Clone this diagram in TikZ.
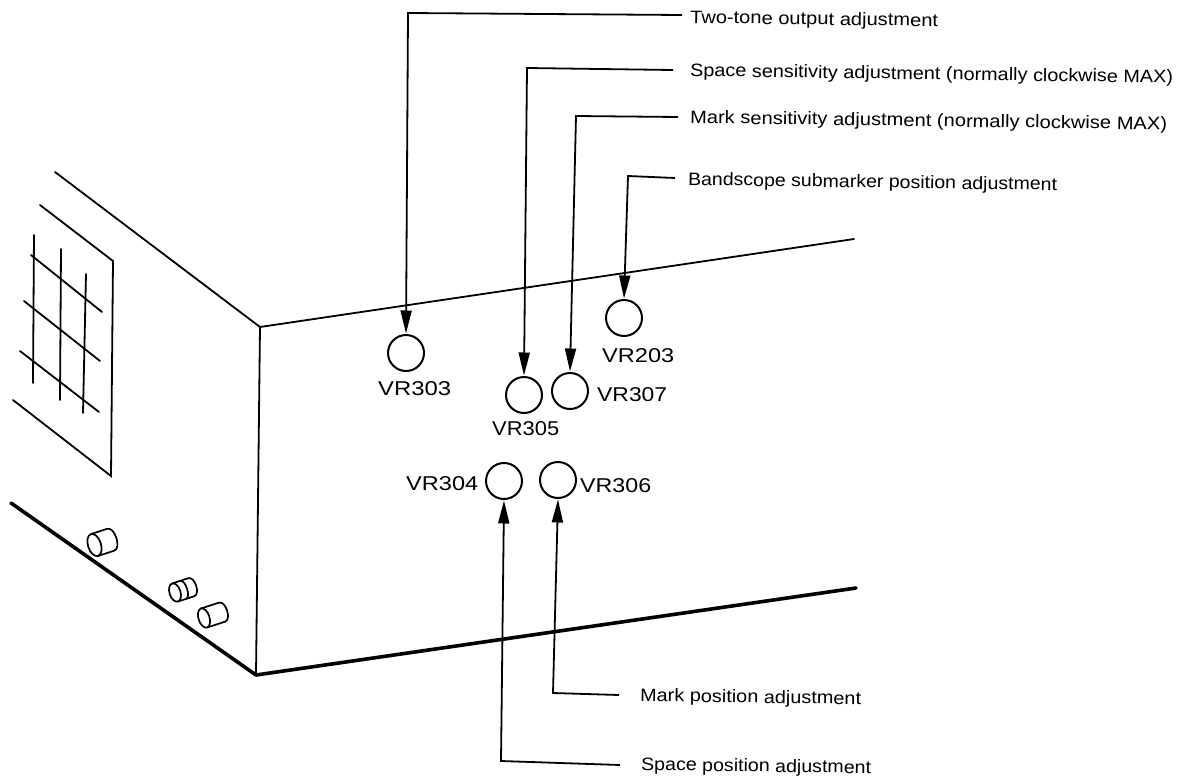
\documentclass[tikz,border=0pt]{standalone}
\usepackage{fontspec}
\usepackage{graphicx}
\setmainfont{Liberation Sans}
\usetikzlibrary{arrows.meta}
\newcommand{\fitw}[2]{\resizebox{#1pt}{\height}{#2}}
\tikzset{
  thinl/.style={line width=1.8pt,black,line cap=round,line join=miter},
  thickl/.style={line width=3.6pt,black,line cap=round,line join=round},
  conn/.style={line width=1.8pt,black,line join=miter,-{Triangle[length=23pt,width=11pt]},shorten >=0.5pt},
  knobd/.style={line width=1.7pt,black},
  vr/.style={circle,draw=black,line width=2pt,minimum size=36pt,inner sep=0pt},
  lab/.style={anchor=west,rotate=-0.8,inner ysep=0pt,text height=12pt,text depth=0pt,font=\fontsize{18}{18}\selectfont},
  vrlab/.style={anchor=base west,inner sep=0pt,font=\fontsize{20}{20}\selectfont}
}
\begin{document}
\begin{tikzpicture}[x=1pt,y=-1pt]
\useasboundingbox (0,0) rectangle (1183,782);
% cabinet
\draw[thinl] (55,172) -- (260,327) -- (854,239);
\draw[thinl] (260,327) -- (256,675);
\draw[thinl] (40,205) -- (113,261) -- (111,476) -- (13,400);
\draw[thickl] (11,503) -- (256,675) -- (856,588);
% grid
\draw[thinl] (34,235) -- (33,383);
\draw[thinl] (61,249) -- (60,400);
\draw[thinl] (86,274) -- (83,413);
\draw[thinl] (31,255) -- (102,312);
\draw[thinl] (24,301) -- (100,361);
\draw[thinl] (20,351) -- (99,412);
% knobs
\begin{scope}[shift={(94.5,545)},rotate=18,knobd]
  \draw (0,0) ellipse [x radius=6.5pt,y radius=11.5pt];
  \draw (0,-11.5) -- (17,-11.5) .. controls (25,-11.5) and (25,11.5) .. (17,11.5) -- (0,11.5);
\end{scope}
\begin{scope}[shift={(175,592.5)},rotate=18,knobd]
  \draw (0,0) ellipse [x radius=5.5pt,y radius=9.5pt];
  \draw (0,-9.5) -- (17,-9.5) .. controls (24,-9.5) and (24,9.5) .. (17,9.5) -- (0,9.5);
  \draw (8.5,-9.5) .. controls (14,-9.5) and (14,9.5) .. (8.5,9.5);
\end{scope}
\begin{scope}[shift={(204,618)},rotate=18,knobd]
  \draw (0,0) ellipse [x radius=5.5pt,y radius=10pt];
  \draw (0,-10) -- (19,-10) .. controls (26,-10) and (26,10) .. (19,10) -- (0,10);
\end{scope}
% trimmers
\node[vr] (c303) at (406,353) {};
\node[vr] (c305) at (524,395) {};
\node[vr] (c307) at (570,391) {};
\node[vr] (c203) at (624,318) {};
\node[vr] (c304) at (504,481) {};
\node[vr] (c306) at (558,480) {};
\node[vrlab] (t303) at (378,395) {\fitw{73}{VR303}};
\node[vrlab] (t305) at (492,435) {\fitw{67}{VR305}};
\node[vrlab] (t307) at (597,401) {\fitw{70}{VR307}};
\node[vrlab] (t203) at (602,362) {\fitw{72}{VR203}};
\node[vrlab] (t304) at (406,490) {\fitw{72}{VR304}};
\node[vrlab] (t306) at (580,492) {\fitw{71}{VR306}};
% labels
\node[lab,inner xsep=8pt,text height=16pt] (ltwo) at (682,15) {\fitw{248}{Two-tone output adjustment}};
\node[lab,inner xsep=17pt] (lspace) at (673,70) {\fitw{483}{Space sensitivity adjustment (normally clockwise MAX)}};
\node[lab,inner xsep=12pt] (lmark) at (678,117) {\fitw{477}{Mark sensitivity adjustment (normally clockwise MAX)}};
\node[lab,inner xsep=13pt,text height=14pt] (lband) at (675,178) {\fitw{369}{Bandscope submarker position adjustment}};
\node[lab,inner xsep=21pt] (lmpos) at (619,695) {\fitw{221}{Mark position adjustment}};
\node[lab,inner xsep=21pt,text height=10pt] (lspos) at (620,765) {\fitw{230}{Space position adjustment}};
% connectors
\draw[conn] (ltwo.west) -- (408,13) -- (c303.north);
\draw[conn] (lspace.west) -- (527,68) -- (c305.north);
\draw[conn] (lmark.west) -- (576,116) -- (c307.north);
\draw[conn] (lband.west) -- (628,176) -- (c203.north);
\draw[conn] (lmpos.west) -- (553,693) -- (c306.south);
\draw[conn] (lspos.west) -- (501,761) -- (c304.south);
\end{tikzpicture}
\end{document}
